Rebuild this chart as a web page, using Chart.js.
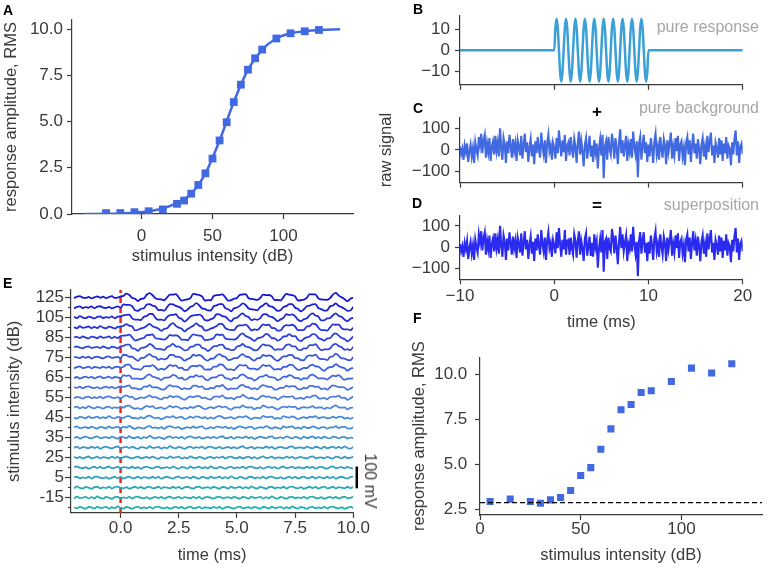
<!DOCTYPE html>
<html>
<head>
<meta charset="utf-8">
<script src="https://cdn.jsdelivr.net/npm/chart.js@4.4.1/dist/chart.umd.min.js"></script>
<style>
  body { margin: 0; background: #fff; width: 767px; height: 567px; position: relative; overflow: hidden;
         font-family: "Liberation Sans", Arial, sans-serif; }
  .box { position: absolute; }
  .letter { position: absolute; font-weight: bold; font-size: 14px; line-height: 1; color: #000; }
  .note { position: absolute; font-size: 16px; line-height: 1; color: #a6a6a6; white-space: nowrap; }
  .sign { position: absolute; font-weight: bold; font-size: 17px; line-height: 1; color: #000; transform: translate(-50%, -50%); }
  .bar { position: absolute; font-size: 16px; line-height: 1; color: #3a3a3a; white-space: nowrap;
         transform: translate(-50%, -50%) rotate(90deg); }
</style>
</head>
<body>
<div class="box" style="left:0px;top:0px"><canvas id="chartA" width="370" height="268"></canvas></div>
<div class="box" style="left:380px;top:0px"><canvas id="chartB" width="387" height="100"></canvas></div>
<div class="box" style="left:375px;top:100px"><canvas id="chartC" width="392" height="100"></canvas></div>
<div class="box" style="left:380px;top:200px"><canvas id="chartD" width="387" height="134"></canvas></div>
<div class="box" style="left:3px;top:275px"><canvas id="chartE" width="377" height="292"></canvas></div>
<div class="box" style="left:408px;top:335px"><canvas id="chartF" width="359" height="232"></canvas></div>

<div class="letter" style="left:3px;top:3px">A</div>
<div class="letter" style="left:413px;top:2px">B</div>
<div class="letter" style="left:413px;top:101px">C</div>
<div class="letter" style="left:412px;top:196px">D</div>
<div class="letter" style="left:3px;top:276px">E</div>
<div class="letter" style="left:413px;top:311px">F</div>
<div class="note" style="right:8px;top:19px">pure response</div>
<div class="note" style="right:8px;top:100px">pure background</div>
<div class="note" style="right:8px;top:197px">superposition</div>
<div class="sign" style="left:597px;top:111px">+</div>
<div class="sign" style="left:597px;top:205px">=</div>
<div class="bar" style="left:370px;top:481px">100 mV</div>

<script>
// ---- panel A: model response curve ----
const aIntensity = [-25, -15, -5, 5, 15, 25, 30, 35, 40, 45, 50, 55, 60, 65, 70, 75, 80, 85, 95, 105, 115, 125];
const aAmplitude = [0.05, 0.05, 0.1, 0.15, 0.25, 0.55, 0.73, 1.1, 1.57, 2.2, 3.0, 3.98, 4.97, 6.06, 7.0, 7.81, 8.43, 8.9, 9.5, 9.78, 9.89, 9.96];
const aFitX = [-40, -25, -15, -5, 5, 15, 25, 35, 45, 55, 65, 75, 85, 95, 105, 115, 125, 140];
const aFitY = [0.0, 0.01, 0.03, 0.07, 0.15, 0.3, 0.6, 1.1, 2.2, 3.98, 6.06, 7.81, 8.9, 9.5, 9.78, 9.89, 9.96, 10.0];
const aXTicks = [0, 50, 100];
const aYTicks = [0, 2.5, 5, 7.5, 10];

// ---- panels B-D: raw signals, sampled every 0.125 ms from -10 to 20 ms ----
const rawStart = -10;
const rawStep = 0.125;
const bOnset = 0;      // pure response is non-zero from 0 to 10 ms
const bPeak = 15;
const bResponse = [
  0, 10.6, 15, 10.6, 0, -10.6, -15, -10.6,  0, 10.6, 15, 10.6, 0, -10.6, -15, -10.6,
  0, 10.6, 15, 10.6, 0, -10.6, -15, -10.6,  0, 10.6, 15, 10.6, 0, -10.6, -15, -10.6,
  0, 10.6, 15, 10.6, 0, -10.6, -15, -10.6,  0, 10.6, 15, 10.6, 0, -10.6, -15, -10.6,
  0, 10.6, 15, 10.6, 0, -10.6, -15, -10.6,  0, 10.6, 15, 10.6, 0, -10.6, -15, -10.6,
  0, 10.6, 15, 10.6, 0, -10.6, -15, -10.6,  0, 10.6, 15, 10.6, 0, -10.6, -15, -10.6,
  0
];
const cBackground = [
  15, -20, 5, -45, 20, -10, 30, -55, -5, 25, -30, 10, -60, 35, 0, -25,
  60, 20, 75, -15, 45, 70, -35, 30, -10, 55, -50, 15, 40, -20, 65, -5,
  35, -30, 100, 10, -45, 55, 25, -60, 40, -15, 70, 20, -35, 50, -5, 30,
  -50, 45, 15, -25, 65, -40, 20, 75, -10, 35, -55, 10, 50, -30, 25, -65,
  40, -15, 60, 5, -35, 80, 15, -20, 45, -60, 30, 70, -5, 20, -45, 35,
  10, -40, 55, -15, 90, 25, -30, 45, -10, 70, -50, 20, 35, -25, 60, 5,
  -35, 50, 15, -60, 30, 85, -20, 40, -5, -75, 25, 55, -40, 15, 65, -30,
  20, -55, 45, -10, 30, -85, 10, 50, -25, 70, -130, 15, 40, -45, 60, 5,
  -20, 75, 30, -40, 55, 10, -65, 35, 95, -15, 45, -30, 20, 65, -50, 25,
  -10, 50, -35, 85, 15, -20, 40, -125, 30, 60, -45, 20, 70, -15, 35, -55,
  25, -30, 55, 10, -60, 40, 75, -20, 15, -45, 60, 5, -35, 50, 20, -65,
  45, -10, 30, 80, -40, 15, -25, 55, -5, 65, -50, 25, 40, -30, 10, -70,
  35, 60, -20, 45, -55, 20, 75, -15, 30, -40, 50, 5, -65, 25, 55, -30,
  15, -45, 65, -10, 40, 80, -25, 20, -60, 35, 10, -35, 55, -20, 45, -50,
  30, -15, 60, -40, 20, 5, -70, 35, -20, 50, 90, -25, 40, -60, 15, 30,
  -20
];
const bYTicks = [-10, 0, 10];
const cYTicks = [-100, 0, 100];
const rawXTicks = [-10, 0, 10, 20];

// ---- panel E: averaged traces per stimulus level (bottom to top) ----
const eLevels = [-25, -15, -5, 5, 15, 25, 30, 35, 40, 45, 50, 55, 60, 65, 70, 75, 80, 85, 95, 105, 115, 125];
const eAmp = [0, 0, 0, 0, 0.5, 1, 1, 1.5, 2.5, 3.5, 4.5, 6, 7.5, 9, 10.5, 11.5, 12.5, 13, 14, 14.5, 15, 15];
const eNoise = [
  2, -3, 4, -1, -5, 3, 1, -4, 5, -2, 0, 4, -4, 2, -3, 6, -1, -4, 3, 0,
  -5, 2, 4, -3, 1, -2, 4, -4, 3, 5, -1, -3, 2, -5, 0, 4, -2, 3, -4, 1,
  5, -3, -1, 4, -4, 2, 0, -3, 4, -2, 3, -5, 1, 4, -1, -4, 2, 5, -3, 0
];
const eStart = -2;
const eEnd = 10;
const traceSpacing = 46;   // mV between stacked traces
const eXTicks = [0, 2.5, 5, 7.5, 10];
const scaleBarMv = 100;

// ---- panel F: measured RMS ----
const fIntensity = [5, 15, 25, 30, 35, 40, 45, 50, 55, 60, 65, 70, 75, 80, 85, 95, 105, 115, 125];
const fAmplitude = [2.93, 3.06, 2.93, 2.83, 3.02, 3.15, 3.54, 4.37, 4.81, 5.83, 6.96, 8.02, 8.31, 8.98, 9.07, 9.59, 10.33, 10.06, 10.57];
const fBaseline = 2.87;
const fXTicks = [0, 50, 100];
const fYTicks = [2.5, 5, 7.5, 10];

const FONT = '"Liberation Sans", Arial, sans-serif';
const INK = '#3a3a3a';
const BLUE = '#4169e1';
const tickFont = { family: FONT, size: 17, lineHeight: 1.2 };
const titleFont = { family: FONT, size: 16.5, lineHeight: 1.2 };

const minus = v => (v < 0 ? '\u2212' + Math.abs(v) : String(v));
const oneDec = v => v.toFixed(1);

function axis(o) {
  return {
    type: 'linear',
    position: o.position,
    min: o.min,
    max: o.max,
    weight: o.weight || 0,
    border: { display: o.border !== false, color: INK, width: 1.2 },
    grid: { drawOnChartArea: false, drawTicks: true, tickLength: o.tickLength || 5, tickColor: INK, tickWidth: 1.2 },
    ticks: { display: o.labels !== false, color: INK, font: tickFont, padding: o.pad || 0,
             maxRotation: 0, autoSkip: false, callback: o.format || (v => String(v)) },
    title: { display: !!o.title, text: o.title, color: INK, font: titleFont, padding: { top: 2, bottom: 2 } },
    afterBuildTicks: s => { s.ticks = o.ticks.map(v => ({ value: v })); },
    afterFit: s => { if (s.isHorizontal()) s.height = o.size; else s.width = o.size; }
  };
}

function makeChart(id, datasets, scales, padding) {
  return new Chart(document.getElementById(id), {
    type: 'scatter',
    data: { datasets },
    options: {
      responsive: false,
      animation: false,
      layout: { padding },
      plugins: { legend: { display: false }, tooltip: { enabled: false } },
      scales
    }
  });
}

function pairs(xs, ys) {
  return xs.map((x, i) => ({ x, y: ys[i] }));
}

// pure response value at a raw sample index (zero outside the 0-10 ms window)
function responseAt(k) {
  const j = k - Math.round((bOnset - rawStart) / rawStep);
  return j >= 0 && j < bResponse.length ? bResponse[j] : 0;
}

function rawSeries(values) {
  return values.map((y, k) => ({ x: rawStart + k * rawStep, y }));
}

function lineSet(data, color, width, extra) {
  return Object.assign({ data, showLine: true, borderColor: color, backgroundColor: color,
                         borderWidth: width, pointRadius: 0 }, extra || {});
}

// A
makeChart('chartA', [
  lineSet(pairs(aFitX, aFitY), BLUE, 2.5, { cubicInterpolationMode: 'monotone' }),
  { data: pairs(aIntensity, aAmplitude), pointStyle: 'rect', pointRadius: 5.5, backgroundColor: BLUE, borderWidth: 0 }
], {
  x: axis({ position: 'bottom', min: -49, max: 149, ticks: aXTicks, size: 54, pad: 6.8, title: 'stimulus intensity (dB)' }),
  y: axis({ position: 'left', min: 0, max: 10.5, ticks: aYTicks, size: 72, pad: 4, format: oneDec, title: 'response amplitude, RMS' })
}, { top: 20, right: 17, left: 0, bottom: 0 });

// B
const bSeries = rawSeries(cBackground.map((_, k) => responseAt(k)));
makeChart('chartB', [
  lineSet(bSeries, '#3aa0d6', 2.5, { cubicInterpolationMode: 'monotone' })
], {
  x: axis({ position: 'bottom', min: -10, max: 20, ticks: rawXTicks, size: 13.5, labels: false }),
  y: axis({ position: 'left', min: -16.5, max: 16.5, ticks: bYTicks, size: 80, pad: 5, format: minus })
}, { top: 15.5, right: 24.3, left: 0, bottom: 0 });

// C
makeChart('chartC', [
  lineSet(rawSeries(cBackground), BLUE, 2.1)
], {
  x: axis({ position: 'bottom', min: -10, max: 20, ticks: rawXTicks, size: 17.4, labels: false }),
  y: axis({ position: 'left', min: -150, max: 150, ticks: cYTicks, size: 85, pad: 5, format: minus, title: 'raw signal' })
}, { top: 17.4, right: 24.3, left: 0, bottom: 0 });

// D = B + C
makeChart('chartD', [
  lineSet(rawSeries(cBackground.map((v, k) => v + responseAt(k))), '#2b2bf0', 2.1)
], {
  x: axis({ position: 'bottom', min: -10, max: 20, ticks: rawXTicks, size: 54.8, pad: 1.6, format: minus, title: 'time (ms)' }),
  y: axis({ position: 'left', min: -150, max: 150, ticks: cYTicks, size: 80, pad: 5, format: minus })
}, { top: 14.2, right: 24.3, left: 0, bottom: 0 });

// E
function mix(c1, c2, f) {
  return c1.map((v, i) => Math.round(v + (c2[i] - v) * f));
}
function traceColor(i) {
  const bottom = [32, 178, 170], mid = [80, 130, 225], top = [20, 20, 215];
  const n = eLevels.length - 1, half = n / 2;
  const c = i <= half ? mix(bottom, mid, i / half) : mix(mid, top, (i - half) / half);
  return `rgb(${c[0]},${c[1]},${c[2]})`;
}
const eFirst = Math.round((eStart - rawStart) / rawStep);
const eLast = Math.round((eEnd - rawStart) / rawStep);
const eDatasets = eLevels.map((lvl, i) => {
  const data = [];
  for (let k = eFirst; k <= eLast; k++) {
    const n = eNoise[(k - eFirst + 7 * i) % eNoise.length];
    data.push({ x: rawStart + k * rawStep, y: i * traceSpacing + responseAt(k) / bPeak * eAmp[i] + n });
  }
  return lineSet(data, traceColor(i), 1.8, { cubicInterpolationMode: 'monotone' });
});
const eYMin = -24, eYMax = 1000;
eDatasets.push(lineSet([{ x: 0, y: eYMin }, { x: 0, y: eYMax }], '#e8251f', 2.5, { borderDash: [6, 4] }));
eDatasets.push(lineSet([{ x: 10.15, y: 89 }, { x: 10.15, y: 89 + scaleBarMv }], '#000', 2.5, { clip: false }));

const eMajor = eLevels.map((_, i) => i).filter(i => i % 2 === 1);
const eMinor = eLevels.map((_, i) => i).filter(i => i % 2 === 0);
makeChart('chartE', eDatasets, {
  x: axis({ position: 'bottom', min: -2.13, max: 10, ticks: eXTicks, size: 54.1, pad: 0, format: oneDec, title: 'time (ms)' }),
  y: axis({ position: 'left', min: eYMin, max: eYMax, ticks: eMajor.map(i => i * traceSpacing), size: 68, pad: 1,
            tickLength: 6, weight: 1, format: (v, idx) => String(eLevels[eMajor[idx]]), title: 'stimulus intensity (dB)' }),
  yMinor: axis({ position: 'left', min: eYMin, max: eYMax, ticks: eMinor.map(i => i * traceSpacing), size: 0,
                 tickLength: 3, labels: false, border: false, weight: 0 })
}, { top: 14.9, right: 26.7, left: 0, bottom: 0 });

// F
makeChart('chartF', [
  lineSet([{ x: 0, y: fBaseline }, { x: 140, y: fBaseline }], '#000', 1.3, { borderDash: [5, 3] }),
  { data: pairs(fIntensity, fAmplitude), pointStyle: 'rect', pointRadius: 5, backgroundColor: BLUE, borderWidth: 0 }
], {
  x: axis({ position: 'bottom', min: 0, max: 140, ticks: fXTicks, size: 52, pad: -1, title: 'stimulus intensity (dB)' }),
  y: axis({ position: 'left', min: 2.18, max: 10.93, ticks: fYTicks, size: 72, pad: 7.7, format: oneDec, title: 'response amplitude, RMS' })
}, { top: 22.3, right: 4.6, left: 0, bottom: 0 });
</script>
</body>
</html>
